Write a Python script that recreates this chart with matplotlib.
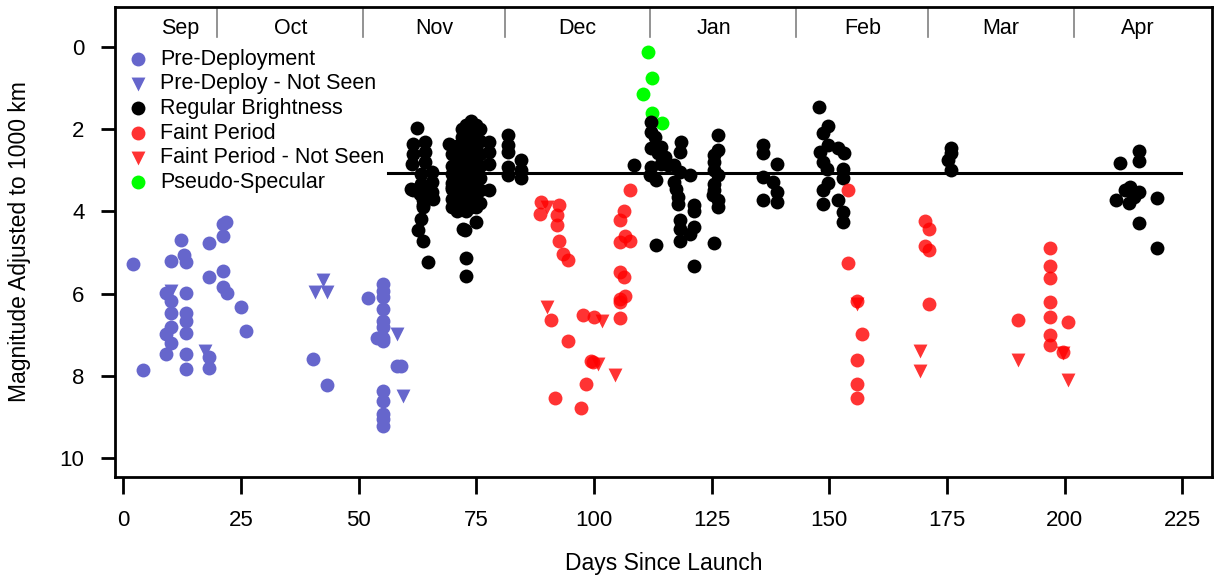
import matplotlib
matplotlib.use("Agg")
import matplotlib.pyplot as plt

plt.rcParams['font.family'] = ['Liberation Sans', 'DejaVu Sans']

# ---- data (days since launch, magnitude adjusted to 1000 km) ----
pre_days = [2.1, 4.2, 12.2, 10.2, 13.0, 13.3, 18.2, 21.9, 21.2, 21.2, 21.2, 18.2,
            21.2, 22.1, 25.1, 26.1, 9.1, 13.3, 10.2, 10.2, 13.3, 13.3, 10.2, 9.1,
            10.2, 13.3, 9.1, 13.3, 13.3, 18.2, 18.2, 40.2, 43.2,
            55.1, 55.1, 55.1, 55.1, 55.1, 55.1, 55.1, 55.1, 55.1, 55.1, 55.1, 55.1, 55.1,
            52.0, 53.8, 58.1, 59.1]
pre_mag = [5.29, 7.86, 4.69, 5.2, 5.05, 5.23, 4.76, 4.26, 4.3, 4.61, 5.46, 5.6,
           5.83, 5.99, 6.32, 6.9, 5.99, 5.99, 6.17, 6.46, 6.46, 6.66, 6.82, 6.98,
           7.21, 6.96, 7.47, 7.47, 7.84, 7.55, 7.8, 7.59, 8.22,
           5.77, 5.93, 6.09, 6.37, 6.66, 6.82, 7.07, 7.15, 8.37, 8.61, 8.93, 9.06, 9.22,
           6.1, 7.07, 7.77, 7.77]

pre_ns_days = [10.2, 17.3, 42.4, 40.7, 43.2, 58.1, 59.5]
pre_ns_mag = [5.93, 7.4, 5.67, 5.97, 5.97, 6.98, 8.49]

reg_days = [62.5, 61.6, 64.0, 61.6, 64.0, 61.3, 64.0, 63.3, 65.5, 61.2, 63.3, 65.5,
            63.0, 65.5, 63.7, 65.8, 63.7, 61.6, 63.7, 63.7, 63.3, 62.6, 63.7, 64.8,
            69.3, 69.9, 69.9, 69.9, 69.9, 69.9, 69.9, 69.9, 69.9,
            70.9, 70.9, 70.9, 70.9, 70.9, 70.9, 70.9, 70.9, 70.9,
            71.9, 71.9, 71.9, 71.9, 71.9, 71.9, 71.9, 71.9, 71.9, 71.9,
            72.9, 72.9, 72.9, 72.9, 72.9, 72.9, 72.9, 72.9, 72.9, 72.9, 72.9,
            73.9, 73.9, 73.9, 73.9, 73.9, 73.9, 73.9, 73.9, 73.9, 73.9, 73.9,
            74.9, 74.9, 74.9, 74.9, 74.9, 74.9, 74.9, 74.9, 74.9,
            75.8, 75.8, 75.8, 75.8, 75.8, 75.8, 75.8,
            72.2, 72.8, 72.8, 72.6,
            77.8, 77.8, 77.8, 77.8, 81.7, 81.7, 81.7, 81.7, 81.7, 84.5, 84.5, 84.5,
            112.2, 112.2, 112.9, 112.2, 114.3, 113.6, 115.0, 114.3, 112.2, 115.7,
            108.4, 111.8, 113.2, 117.1, 118.2, 120.3, 118.5, 118.2, 117.1, 117.5,
            117.8, 117.8, 121.3, 121.3, 118.2, 118.2, 118.2, 121.3, 120.3, 113.2,
            121.3,
            126.3, 126.3, 125.6, 125.6, 125.6, 126.3, 125.6, 125.6, 125.2, 126.3,
            126.3, 125.4,
            136.0, 136.0, 138.8, 136.0, 138.1, 138.8, 138.8, 136.0,
            147.8, 149.7, 148.7, 149.7, 148.0, 151.8, 153.1, 148.7, 149.4, 152.9,
            152.9, 149.7, 148.7, 148.7, 151.8, 152.9, 152.9,
            175.9, 175.9, 175.2, 175.9,
            215.8, 215.8, 211.7, 210.9, 212.8, 213.8, 215.8, 214.7, 213.7, 219.7,
            215.8, 219.7]
reg_mag = [1.98, 2.35, 2.31, 2.6, 2.55, 2.84, 2.8, 3.08, 3.04, 3.45, 3.33, 3.28,
           3.57, 3.53, 3.73, 3.69, 3.9, 3.49, 3.49, 3.85, 4.18, 4.46, 4.71, 5.24,
           2.35, 2.6, 2.9, 3.1, 3.3, 3.45, 3.7, 3.9, 3.41,
           2.4, 2.7, 2.85, 3.0, 3.2, 3.4, 3.6, 3.85, 4.0,
           2.0, 2.2, 2.5, 2.7, 2.9, 3.1, 3.3, 3.5, 3.7, 3.9,
           1.9, 2.1, 2.3, 2.6, 2.8, 3.0, 3.2, 3.5, 3.6, 3.8, 4.0,
           1.8, 2.0, 2.2, 2.4, 2.6, 2.9, 3.1, 3.3, 3.5, 3.7, 3.9,
           1.9, 2.1, 2.4, 2.7, 3.0, 3.3, 3.6, 3.9, 4.26,
           2.0, 2.3, 2.6, 2.9, 3.2, 3.49, 3.8,
           4.42, 5.13, 5.58, 4.46,
           2.31, 2.55, 2.84, 3.49, 2.15, 2.39, 2.55, 2.92, 3.12, 2.76, 3.0, 3.2,
           1.82, 2.07, 2.19, 2.47, 2.43, 2.59, 2.68, 2.84, 2.92, 2.88,
           2.88, 3.12, 3.24, 2.88, 3.04, 3.12, 2.31, 2.55, 3.28, 3.45,
           3.65, 3.81, 3.85, 3.98, 4.22, 4.42, 4.71, 4.38, 4.54, 4.83,
           5.32,
           2.15, 2.51, 2.63, 2.8, 3.0, 3.12, 3.33, 3.49, 3.61, 3.73,
           3.9, 4.77,
           2.39, 2.59, 2.84, 3.16, 3.28, 3.53, 3.77, 3.72,
           1.46, 1.93, 2.09, 2.39, 2.55, 2.45, 2.59, 2.8, 2.96, 2.96,
           3.2, 3.32, 3.49, 3.81, 3.73, 4.02, 4.26,
           2.47, 2.59, 2.76, 3.0,
           2.53, 2.77, 2.82, 3.72, 3.47, 3.41, 3.53, 3.65, 3.8, 3.67,
           4.29, 4.89]

faint_days = [88.7, 88.5, 92.6, 92.1, 92.1, 92.6, 93.5, 94.4, 90.9, 97.6, 99.9, 105.5,
              94.4, 99.3, 99.8, 98.4, 91.8, 97.3, 107.6, 106.3, 105.5, 106.6, 105.5,
              107.6, 105.5, 106.3, 106.6, 105.5, 105.5,
              154.0, 154.0, 155.9, 156.9, 155.9, 155.9, 155.9,
              170.3, 171.2, 170.3, 171.2, 171.2, 190.1,
              196.8, 196.8, 196.8, 196.8, 196.8, 196.8, 196.8, 200.7, 199.6]
faint_mag = [3.77, 4.06, 3.85, 4.1, 4.32, 4.73, 5.03, 5.18, 6.63, 6.51, 6.56, 6.59,
             7.15, 7.63, 7.66, 8.2, 8.54, 8.79, 3.49, 3.98, 4.2, 4.59, 4.75,
             4.71, 5.48, 5.6, 6.05, 6.13, 6.2,
             3.47, 5.25, 6.17, 6.98, 7.61, 8.2, 8.54,
             4.24, 4.44, 4.85, 4.93, 6.25, 6.64,
             4.89, 5.33, 5.62, 6.2, 6.58, 7.0, 7.26, 6.7, 7.41]

faint_ns_days = [90.1, 101.6, 100.9, 104.4, 90.0, 155.9, 169.2, 169.2, 190.1, 199.6, 200.7]
faint_ns_mag = [6.33, 6.66, 7.71, 7.98, 3.9, 6.25, 7.39, 7.88, 7.61, 7.45, 8.1]

spec_days = [111.4, 112.4, 110.5, 112.4, 114.5]
spec_mag = [0.13, 0.75, 1.15, 1.6, 1.86]

ref_line_days = [56.2, 224.8]
ref_line_mag = 3.06

month_bounds = [20, 51, 81, 112, 143, 171, 202]
month_names = ['Sep', 'Oct', 'Nov', 'Dec', 'Jan', 'Feb', 'Mar', 'Apr']
month_centers = [12, 35.5, 66, 96.5, 125.5, 157, 186.5, 215.5]

# ---- figure ----
fig = plt.figure(figsize=(12.14, 5.79), dpi=100)
ax = fig.add_axes([115 / 1214, 1 - 477 / 579, (1212 - 115) / 1214, (477 - 7) / 579])

blue = '#6666cc'
red = (1, 0, 0, 0.8)
ms = 100

ax.scatter(pre_days, pre_mag, s=ms, color=blue, linewidths=0, label='Pre-Deployment')
ax.scatter(pre_ns_days, pre_ns_mag, s=ms, marker='v', color=blue, linewidths=0,
           label='Pre-Deploy - Not Seen')
ax.scatter(spec_days, spec_mag, s=ms, color='#00ff00', linewidths=0, zorder=2)
ax.scatter(reg_days, reg_mag, s=ms, color='black', linewidths=0, label='Regular Brightness', zorder=3)
ax.scatter(faint_days, faint_mag, s=ms, color=red, linewidths=0, label='Faint Period', zorder=4)
ax.scatter(faint_ns_days, faint_ns_mag, s=ms, marker='v', color=red, linewidths=0,
           label='Faint Period - Not Seen', zorder=4)
# empty copy so the green entry comes last in the legend
ax.scatter([], [], s=ms, color='#00ff00', linewidths=0, label='Pseudo-Specular')

ax.plot(ref_line_days, [ref_line_mag, ref_line_mag], color='black', lw=2.2, zorder=2.5)

# month band along the top
for b in month_bounds:
    ax.plot([b, b], [-0.97, -0.23], color='#808080', lw=1.2)
for name, c in zip(month_names, month_centers):
    ax.text(c, -0.44, name, ha='center', va='center', fontsize=15.5)

ax.set_xlim(-1.76, 231.3)
ax.set_ylim(10.46, -0.97)
ax.set_xticks(range(0, 226, 25))
ax.set_yticks(range(0, 11, 2))
ax.tick_params(axis='x', length=12, width=2, pad=12, labelsize=16)
ax.tick_params(axis='y', length=10, width=2, pad=12, labelsize=16)
for sp in ax.spines.values():
    sp.set_linewidth(2)

ax.set_xlabel('Days Since Launch', fontsize=16.5)
ax.xaxis.set_label_coords(0.5, -0.16)
ax.set_ylabel('Magnitude Adjusted to 1000 km', fontsize=16.5)
ax.yaxis.set_label_coords(-0.077, 0.5)

ax.legend(loc='upper left', bbox_to_anchor=(0.011, 0.911), frameon=False, fontsize=15.5,
          handlelength=1.0, handletextpad=0.55, labelspacing=0.17, borderaxespad=0,
          borderpad=0, scatterpoints=1)

fig.savefig('out.png', dpi=100)
